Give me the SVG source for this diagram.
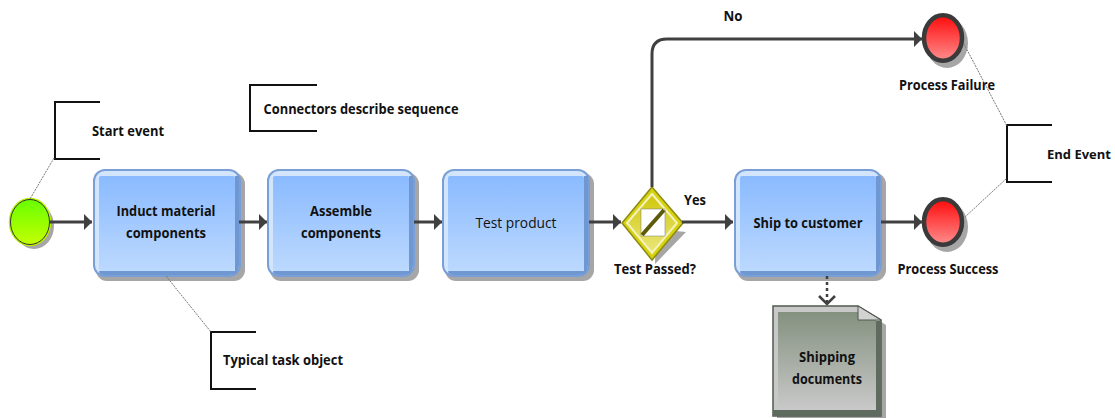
<svg xmlns="http://www.w3.org/2000/svg" width="1115" height="418" viewBox="0 0 1115 418">
<style>
text{font-family:"Open Sans","Liberation Sans",sans-serif;font-size:15px;font-weight:700;fill:#111;text-anchor:middle}
.conn{fill:none;stroke:#404040;stroke-width:3}
.lead{fill:none;stroke:#777;stroke-width:1;stroke-dasharray:2 1}
.brk{fill:none;stroke:#111;stroke-width:2}
.shadow{fill:#a6a6a6}
.outer{fill:#d3e5fc;stroke:#7a9fd6;stroke-width:2}
.inner{fill:url(#blue)}
.edge{fill:#6f97d1}
.red{fill:url(#red);stroke:#3a3a3a;stroke-width:4.500}
</style>
<defs>
<linearGradient id="blue" x1="0" y1="0" x2="0" y2="1"><stop offset="0" stop-color="#8abaff"/><stop offset="1" stop-color="#bcd9fe"/></linearGradient>
<linearGradient id="green" x1="0" y1="0" x2="0" y2="1"><stop offset="0" stop-color="#66ff00"/><stop offset="1" stop-color="#c6ff00"/></linearGradient>
<linearGradient id="red" x1="0" y1="0" x2="0" y2="1"><stop offset="0" stop-color="#ff0a0a"/><stop offset="1" stop-color="#ff8e8e"/></linearGradient>
<linearGradient id="doc" x1="0" y1="0" x2="0" y2="1"><stop offset="0" stop-color="#84917f"/><stop offset="1" stop-color="#c9c9c9"/></linearGradient>
<linearGradient id="gold" x1="0" y1="0" x2="0" y2="1"><stop offset="0" stop-color="#cfc70a"/><stop offset="1" stop-color="#ebe67c"/></linearGradient>
<marker id="arr" markerUnits="userSpaceOnUse" markerWidth="9" markerHeight="16" refX="8" refY="8" orient="auto"><path d="M0 0L8 8L0 16Z" fill="#404040"/></marker>
</defs>

<g id="note-start"><path class="brk" d="M100 102H55V159H100"/><text x="128" y="136" textLength="72" lengthAdjust="spacingAndGlyphs">Start event</text></g>
<g id="note-connectors"><path class="brk" d="M317 85H250V131H317" /><text x="361" y="114" textLength="195" lengthAdjust="spacingAndGlyphs">Connectors describe sequence</text></g>
<g id="note-task"><path class="brk" d="M256 332H211V389H256"/><text x="283" y="365" textLength="120" lengthAdjust="spacingAndGlyphs">Typical task object</text></g>
<g id="note-end"><path class="brk" d="M1052 125H1007V182H1052"/><text x="1079" y="159" style="font-size:13px">End Event</text></g>

<g id="start-event">
<ellipse class="shadow" cx="34" cy="226" rx="20" ry="23"/>
<ellipse cx="30" cy="222" rx="20.500" ry="23.500" fill="url(#green)" stroke="#b8f000" stroke-width="1.500"/>
<ellipse cx="30" cy="222" rx="19.500" ry="22.500" fill="none" stroke="#333" stroke-width="1"/>
</g>

<g id="task-induct">
<rect class="shadow" x="96" y="173" width="149" height="108" rx="11"/>
<rect class="outer" x="94" y="170" width="146" height="106" rx="11"/>
<path class="edge" d="M99 271H235V176H239V265Q239 275 229 275H105Q99 275 99 271Z"/>
<rect class="inner" x="99" y="176" width="136" height="95" rx="2"/>
<text x="166" y="216" textLength="99" lengthAdjust="spacingAndGlyphs">Induct material</text>
<text x="166" y="238" textLength="80" lengthAdjust="spacingAndGlyphs">components</text>
</g>

<g id="task-assemble">
<rect class="shadow" x="270" y="173" width="149" height="108" rx="11"/>
<rect class="outer" x="268" y="170" width="146" height="106" rx="11"/>
<path class="edge" d="M273 271H409V176H413V265Q413 275 403 275H279Q273 275 273 271Z"/>
<rect class="inner" x="273" y="176" width="136" height="95" rx="2"/>
<text x="341" y="216" textLength="62" lengthAdjust="spacingAndGlyphs">Assemble</text>
<text x="341" y="238" textLength="80" lengthAdjust="spacingAndGlyphs">components</text>
</g>

<g id="task-test">
<rect class="shadow" x="445" y="173" width="149" height="108" rx="11"/>
<rect class="outer" x="443" y="170" width="146" height="106" rx="11"/>
<path class="edge" d="M448 271H584V176H588V265Q588 275 578 275H454Q448 275 448 271Z"/>
<rect class="inner" x="448" y="176" width="136" height="95" rx="2"/>
<text x="516" y="228" textLength="81" lengthAdjust="spacingAndGlyphs" style="font-weight:400">Test product</text>
</g>

<g id="gateway">
<path d="M655 229L686 232L655 264L656 229Z" fill="#a6a6a6"/>
<path d="M652 187L683 223L652 260L622 223Z" fill="#d6d20f" stroke="#8d8a10" stroke-width="1.500"/>
<path d="M652 194L677 223L652 253L627 223Z" fill="url(#gold)" stroke="#f4f2c0" stroke-width="2"/>
<rect x="641" y="209" width="24" height="27" fill="#fff" stroke="#777" stroke-width="0.500"/>
<path d="M642 235L664 210" stroke="#5d5a0a" stroke-width="4"/>
<text x="655" y="274" textLength="82" lengthAdjust="spacingAndGlyphs">Test Passed?</text>
<text x="695" y="205" textLength="22" lengthAdjust="spacingAndGlyphs">Yes</text>
<text x="733" y="21" textLength="19" lengthAdjust="spacingAndGlyphs">No</text>
</g>

<g id="task-ship">
<rect class="shadow" x="737" y="173" width="149" height="108" rx="11"/>
<rect class="outer" x="735" y="170" width="146" height="106" rx="11"/>
<path class="edge" d="M740 271H876V176H880V265Q880 275 870 275H746Q740 275 740 271Z"/>
<rect class="inner" x="740" y="176" width="136" height="95" rx="2"/>
<text x="808" y="228" textLength="109" lengthAdjust="spacingAndGlyphs">Ship to customer</text>
</g>

<g id="document">
<path d="M777 310H863L886 325V418H777Z" fill="#a6a6a6"/>
<path d="M773 306H858L881 320V416H773Z" fill="#c8c8c8" stroke="#4f5a4f" stroke-width="1.500"/>
<path d="M876 321H881V416H773V410H876Z" fill="#5f6b5f"/>
<path d="M778 312H858V320H876V410H778Z" fill="url(#doc)"/>
<path d="M858 306V320H881Z" fill="#d2d2d2" stroke="#4f5a4f" stroke-width="1"/>
<text x="827" y="362" textLength="56" lengthAdjust="spacingAndGlyphs">Shipping</text>
<text x="827" y="384" textLength="70" lengthAdjust="spacingAndGlyphs">documents</text>
</g>

<g id="end-failure">
<ellipse class="shadow" cx="947" cy="43" rx="21" ry="25"/>
<ellipse class="red" cx="943" cy="38" rx="19" ry="22.700"/>
<text x="947" y="90" textLength="96" lengthAdjust="spacingAndGlyphs">Process Failure</text>
</g>

<g id="end-success">
<ellipse class="shadow" cx="947" cy="227" rx="21" ry="25"/>
<ellipse class="red" cx="943" cy="222" rx="19" ry="22.700"/>
<text x="948" y="274" textLength="101" lengthAdjust="spacingAndGlyphs">Process Success</text>
</g>

<g id="connectors">
<path class="conn" d="M49 222H92" marker-end="url(#arr)"/>
<path class="conn" d="M239 222H267" marker-end="url(#arr)"/>
<path class="conn" d="M414 222H442" marker-end="url(#arr)"/>
<path class="conn" d="M589 222H621" marker-end="url(#arr)"/>
<path class="conn" d="M682 222H733" marker-end="url(#arr)"/>
<path class="conn" d="M881 222H922" marker-end="url(#arr)"/>
<path class="conn" d="M652 187V54Q652 39 667 39H922" marker-end="url(#arr)"/>
<path d="M827 276V304" fill="none" stroke="#404040" stroke-width="2.500" stroke-dasharray="3 3"/>
<path d="M819 296L827 304L835 296" fill="none" stroke="#404040" stroke-width="2.500"/>
<path class="lead" d="M54 158L30 199"/>
<path class="lead" d="M166 276L211 332"/>
<path class="lead" d="M964 44L1007 126"/>
<path class="lead" d="M965 217L1007 178"/>
</g>
</svg>
